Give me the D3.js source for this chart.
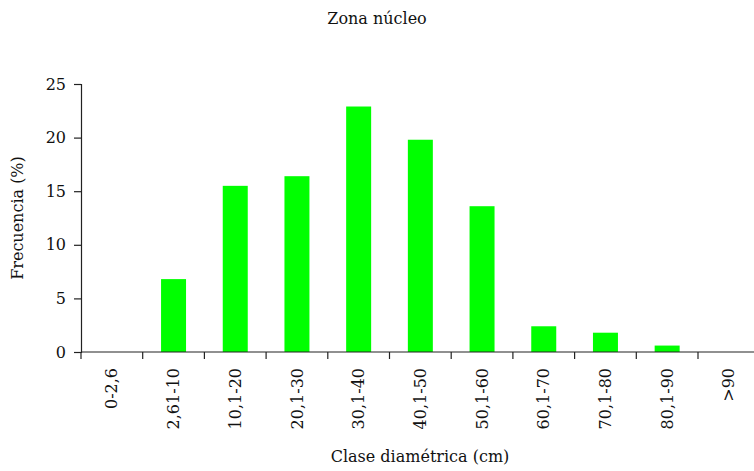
<!DOCTYPE html>
<html>
<head>
<meta charset="utf-8">
<script src="https://cdn.jsdelivr.net/npm/d3@7"></script>
<style>
html,body{margin:0;padding:0;background:#fff;}
svg{display:block;}
text{font-family:"DejaVu Serif","Liberation Serif",serif;fill:#111;}
</style>
</head>
<body>
<svg id="chart" width="754" height="471"></svg>
<script>
const categories = ["0-2,6","2,61-10","10,1-20","20,1-30","30,1-40","40,1-50","50,1-60","60,1-70","70,1-80","80,1-90",">90"];
const values = [0, 6.8, 15.5, 16.4, 22.9, 19.8, 13.6, 2.4, 1.8, 0.6, 0];
const yTicks = [0, 5, 10, 15, 20, 25];
const title = "Zona núcleo";
const xTitle = "Clase diamétrica (cm)";
const yTitle = "Frecuencia (%)";

(function () {
const svg = d3.select("#chart");
const mLeft = 81, mRight = 759.7, mTop = 84, mBottom = 352;

const x = d3.scaleBand().domain(categories).range([mLeft, mRight]).padding(0);
const y = d3.scaleLinear().domain([0, 25]).range([mBottom, mTop]);

// bars
const barW = x.bandwidth() * 0.405;
svg.append("g").selectAll("rect").data(values).join("rect")
  .attr("x", (d, i) => x(categories[i]) + (x.bandwidth() - barW) / 2)
  .attr("y", d => y(d))
  .attr("width", barW)
  .attr("height", d => y(0) - y(d))
  .attr("fill", "#00ff00");

// y axis
const yAxis = svg.append("g").attr("transform", `translate(${mLeft},0)`)
  .call(d3.axisLeft(y).tickValues(yTicks).tickSize(7).tickPadding(8).tickFormat(d3.format("d")));
yAxis.select(".domain").attr("stroke", "#222").attr("stroke-width", 1.2);
yAxis.selectAll(".tick line").attr("stroke", "#222").attr("stroke-width", 1.2);
yAxis.selectAll("text").style("font-size", "16px").style("font-family", "DejaVu Serif, serif").attr("fill", "#111");

// x axis line
svg.append("line").attr("x1", mLeft).attr("x2", mRight).attr("y1", mBottom).attr("y2", mBottom)
  .attr("stroke", "#222").attr("stroke-width", 1.2);
// x ticks at band boundaries
const edges = categories.map(c => x(c)).concat([mRight]);
svg.append("g").selectAll("line").data(edges).join("line")
  .attr("x1", d => d).attr("x2", d => d)
  .attr("y1", mBottom).attr("y2", mBottom + 7)
  .attr("stroke", "#222").attr("stroke-width", 1.2);

// x tick labels (rotated)
svg.append("g").selectAll("text").data(categories).join("text")
  .attr("transform", c => `translate(${x(c) + x.bandwidth() / 2},368) rotate(-90)`)
  .attr("text-anchor", "end")
  .attr("dy", "0.35em")
  .style("font-size", "16px")
  .text(c => c);

// titles
svg.append("text").attr("x", 377).attr("y", 24).attr("text-anchor", "middle")
  .style("font-size", "16px").text(title);
svg.append("text").attr("x", 420).attr("y", 462).attr("text-anchor", "middle")
  .style("font-size", "16px").text(xTitle);
svg.append("text").attr("transform", `translate(23,${(mTop + mBottom) / 2}) rotate(-90)`)
  .attr("text-anchor", "middle").style("font-size", "16px").text(yTitle);
})();
</script>
</body>
</html>
